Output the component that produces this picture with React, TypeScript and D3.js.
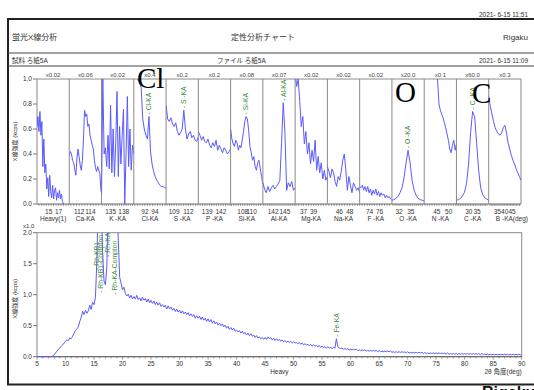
import React from "react";
import * as d3 from "d3";

const W = 534;
const H = 390;

// ---- header texts ----
const printDate = "2021- 6-15 11:51";
const measureDate = "2021- 6-15 11:09";
const headerLeft = "蛍光X線分析";
const headerTitle = "定性分析チャート";
const headerRight = "Rigaku";
const sampleText = "試料  ろ紙5A";
const fileText = "ファイル  ろ紙5A";

// ---- light-element / narrow scan panels (upper chart) ----
const panelNames = ["Heavy(1)", "Ca-KA", "K -KA", "Cl-KA", "S -KA", "P -KA", "Si-KA", "Al-KA", "Mg-KA", "Na-KA", "F -KA", "O -KA", "N -KA", "C -KA", "B -KA"];
const panelFactors = ["x0.02", "x0.06", "x0.02", "x0.4", "x0.2", "x0.2", "x0.08", "x0.07", "x0.02", "x0.02", "x0.02", "x20.0", "x0.1", "x60.0", "x0.3"];
const panelDomains: [number, number][] = [
  [12.6, 19.2], [110.2, 116.0], [132.9, 140.3], [89.8, 96.2], [107.3, 114.1],
  [137.1, 144.1], [105.3, 112.5], [139.4, 147.6], [35.3, 41.8], [43.7, 49.9],
  [72.0, 78.5], [30.2, 38.4], [39.7, 53.3], [22.6, 42.0], [29.2, 51.0],
];
const panelTicks: number[][] = [
  [15, 17], [112, 114], [135, 138], [92, 94], [109, 112], [139, 142], [108, 110],
  [142, 145], [37, 39], [46, 48], [74, 76], [32, 35], [45, 50], [30, 35], [35, 40, 45],
];
// 2θ span covered by each scan
const panelScanRanges: [number, number][] = [
  [12.6, 18.0], [110.2, 115.9], [132.9, 140.3], [90.34, 96.2], [107.3, 114.1],
  [137.1, 144.1], [105.3, 112.5], [139.4, 147.6], [35.3, 41.8], [43.7, 49.9],
  [72.0, 78.5], [30.2, 38.4], [39.7, 53.3], [22.6, 42.0], [29.2, 51.0],
];

const heavy1Scan = [0.62, 0.70, 0.58, 0.74, 0.55, 0.66, 0.30, 0.52, 0.25, 0.32, 0.12, 0.21, 0.06, 0.23, 0.10, 0.05, 0.15, 0.04, 0.11, 0.13, 0.03, 0.09, 0.05, 0.11, 0.04, 0.08, 0.02, 0.0];
const caScan = [0.39, 0.42, 0.40, 0.35, 0.33, 0.28, 0.23, 0.36, 0.44, 0.38, 0.31, 0.27, 0.35, 0.52, 0.75, 0.70, 0.72, 0.62, 0.64, 0.55, 0.51, 0.47, 0.44, 0.35, 0.29, 0.26, 0.30, 0.27, 0.24, 0.10];
const kScan = [0.08, 1.0, 0.40, 0.45, 0.30, 0.55, 0.28, 0.79, 0.25, 0.60, 0.22, 0.48, 0.90, 0.22, 0.62, 0.32, 0.55, 0.76, 0.0, 0.40, 0.86, 0.30, 0.60, 0.27, 0.47, 0.40];
const clScan = [1.05, 0.99, 0.97, 0.93, 0.68, 0.60, 0.55, 0.52, 0.70, 0.42, 0.32, 0.26, 0.22, 0.19, 0.17, 0.15, 0.14, 0.14, 0.13, 0.13];
const sScan = [0.79, 0.68, 0.66, 0.69, 0.64, 0.62, 0.65, 0.58, 0.55, 0.57, 0.60, 0.75, 0.60, 0.52, 0.56, 0.58, 0.53, 0.55, 0.51, 0.50, 0.54];
const pScan = [0.58, 0.55, 0.51, 0.54, 0.50, 0.49, 0.52, 0.47, 0.45, 0.49, 0.46, 0.51, 0.43, 0.47, 0.44, 0.41, 0.45, 0.43, 0.40, 0.42, 0.44];
const siScan = [0.60, 0.52, 0.48, 0.46, 0.51, 0.49, 0.43, 0.47, 0.45, 0.51, 0.58, 0.66, 0.70, 0.68, 0.59, 0.46, 0.41, 0.35, 0.38, 0.30, 0.27, 0.33, 0.35, 0.28, 0.22, 0.16];
const alScan = [0.17, 0.12, 0.09, 0.14, 0.10, 0.13, 0.15, 0.12, 0.14, 0.16, 0.19, 0.49, 0.81, 0.57, 0.11, 0.17, 0.14, 0.18, 0.11, 0.13];
const mgScan = [1.05, 0.94, 1.0, 0.82, 0.62, 0.70, 0.48, 0.58, 0.40, 0.49, 0.32, 0.43, 0.34, 0.51, 0.27, 0.38, 0.25, 0.33, 0.20, 0.27, 0.19, 0.22];
const naScan = [0.30, 0.26, 0.21, 0.28, 0.25, 0.18, 0.14, 0.22, 0.19, 0.26, 0.35, 0.40, 0.27, 0.11, 0.22, 0.15, 0.09, 0.17, 0.14, 0.11, 0.13, 0.09];
const fScan = [0.14, 0.13, 0.15, 0.11, 0.14, 0.10, 0.14, 0.09, 0.12, 0.07, 0.11, 0.08, 0.12, 0.07, 0.10, 0.06, 0.09, 0.07, 0.08, 0.05, 0.07, 0.05, 0.06, 0.04, 0.03];
const oScan = [0.03, 0.035, 0.045, 0.06, 0.09, 0.13, 0.21, 0.33, 0.43, 0.33, 0.19, 0.11, 0.07, 0.045, 0.035, 0.03, 0.025];
const nScan = [1.6, 1.58, 1.55, 1.5, 1.45, 1.4, 1.3, 1.22, 1.15, 1.08, 0.98, 0.80, 0.75, 0.72, 0.69, 0.65, 0.61, 0.56, 0.51, 0.44, 0.41, 0.47, 0.51, 0.43, 0.48];
const cScan = [0.03, 0.035, 0.045, 0.065, 0.095, 0.165, 0.32, 0.57, 0.74, 0.70, 0.49, 0.27, 0.13, 0.075, 0.05, 0.04, 0.03];
const bScan = [0.86, 0.78, 0.72, 0.66, 0.61, 0.58, 0.56, 0.55, 0.57, 0.61, 0.63, 0.57, 0.49, 0.44, 0.39, 0.35, 0.32, 0.28, 0.25, 0.22, 0.19];

const panelScans = [heavy1Scan, caScan, kScan, clScan, sScan, pScan, siScan, alScan, mgScan, naScan, fScan, oScan, nScan, cScan, bScan];

const upperPeaks = [
  { label: "Cl-KA", panel: 3, theta: 92.81 },
  { label: "S -KA", panel: 4, theta: 111.04 },
  { label: "Si-KA", panel: 6, theta: 108.76 },
  { label: "Al-KA", panel: 7, theta: 144.58 },
  { label: "O -KA", panel: 11, theta: 34.3 },
  { label: "C -KA", panel: 13, theta: 32.3 },
];

// ---- heavy element wide scan (lower chart), 2θ from 5° in 0.25° steps ----
const wideStart = 5;
const wideStep = 0.25;
const wideScan = [
  0, 0, 0, 0, 0, 0, 0, 0, 0, 0, 0, 0.01,
  0.03, 0.06, 0.09, 0.12, 0.14, 0.17, 0.19, 0.22,
  0.25, 0.27, 0.26, 0.30, 0.29, 0.33, 0.38, 0.42,
  0.45, 0.48, 0.57, 0.63, 0.73, 0.68, 0.75, 0.70,
  0.74, 0.83, 0.76, 0.88, 0.84, 0.96, 1.55, 2.6,
  2.3, 2.5, 1.7, 1.22, 1.16, 1.45, 2.6, 2.5,
  2.4, 2.6, 2.9, 2.7, 2.5, 1.9, 1.28, 1.18,
  1.08, 1.12, 1.02, 0.98, 1.01, 0.95, 0.99, 0.93,
  0.97, 0.93, 0.99, 0.92, 0.95, 0.90, 0.96, 0.91,
  0.94, 0.88, 0.93, 0.87, 0.91, 0.86, 0.90, 0.84,
  0.88, 0.83, 0.87, 0.81, 0.84, 0.80, 0.83, 0.77,
  0.82, 0.77, 0.80, 0.75, 0.78, 0.73, 0.77, 0.72,
  0.75, 0.70, 0.74, 0.69, 0.72, 0.68, 0.71, 0.66,
  0.69, 0.65, 0.68, 0.62, 0.66, 0.62, 0.65, 0.60,
  0.64, 0.59, 0.62, 0.57, 0.61, 0.56, 0.60, 0.54,
  0.58, 0.53, 0.56, 0.51, 0.54, 0.50, 0.53, 0.48,
  0.51, 0.46, 0.49, 0.44, 0.47, 0.43, 0.46, 0.41,
  0.43, 0.40, 0.42, 0.38, 0.41, 0.37, 0.39, 0.35,
  0.38, 0.34, 0.37, 0.33, 0.35, 0.31, 0.34, 0.30,
  0.32, 0.29, 0.31, 0.28, 0.31, 0.28, 0.32, 0.29,
  0.31, 0.27, 0.30, 0.26, 0.29, 0.26, 0.28, 0.25,
  0.27, 0.24, 0.26, 0.23, 0.25, 0.23, 0.25, 0.22,
  0.24, 0.22, 0.23, 0.21, 0.23, 0.20, 0.22, 0.19,
  0.21, 0.19, 0.20, 0.18, 0.20, 0.17, 0.19, 0.17,
  0.18, 0.16, 0.18, 0.15, 0.17, 0.15, 0.16, 0.14,
  0.16, 0.14, 0.15, 0.13, 0.15, 0.14, 0.29, 0.16,
  0.14, 0.13, 0.14, 0.12, 0.13, 0.12, 0.13, 0.11,
  0.12, 0.11, 0.12, 0.11, 0.12, 0.10, 0.11, 0.10,
  0.11, 0.10, 0.11, 0.09, 0.10, 0.09, 0.10, 0.09,
  0.10, 0.09, 0.10, 0.08, 0.10, 0.08, 0.09, 0.08,
  0.09, 0.08, 0.09, 0.08, 0.09, 0.07, 0.08, 0.07,
  0.08, 0.07, 0.08, 0.07, 0.08, 0.07, 0.08, 0.06,
  0.08, 0.06, 0.07, 0.06, 0.07, 0.06, 0.07, 0.06,
  0.07, 0.06, 0.07, 0.05, 0.07, 0.05, 0.06, 0.05,
  0.06, 0.05, 0.06, 0.05, 0.06, 0.05, 0.06, 0.05,
  0.06, 0.05, 0.06, 0.04, 0.06, 0.04, 0.05, 0.04,
  0.05, 0.04, 0.05, 0.04, 0.05, 0.04, 0.05, 0.04,
  0.05, 0.04, 0.05, 0.04, 0.05, 0.04, 0.05, 0.04,
  0.05, 0.04, 0.05, 0.03, 0.05, 0.04, 0.04, 0.03,
  0.04, 0.03, 0.04, 0.03, 0.04, 0.03, 0.04, 0.03,
  0.04, 0.03, 0.04, 0.03, 0.04, 0.03, 0.04, 0.03,
  0.04, 0.03, 0.04, 0.03, 0.04, 0.03, 0.04, 0.03,
  0.03,
];
const wideTicks = d3.range(5, 91, 5);
const wideLabels = [
  { label: "Rh-KB1", theta: 15.55, level: 1.4 },
  { label: "Rh-KB1-Compton", theta: 16.25, level: 1.03 },
  { label: "Rh-KA", theta: 17.35, level: 1.61 },
  { label: "Rh-KA-Compton", theta: 18.65, level: 1.0 },
];
const widePeaks = [{ label: "Fe-KA", theta: 57.5 }];

const upperYTicks = [0, 0.2, 0.4, 0.6, 0.8, 1.0];
const lowerYTicks = [0, 0.5, 1.0, 1.5, 2.0];

// ---- geometry ----
const up = { left: 37, right: 521, top: 79, bottom: 204 };
const low = { left: 37, right: 521.7, top: 232.7, bottom: 356.7 };

const FONT = "'Liberation Sans', 'Noto Sans CJK JP', sans-serif";
const LINE = "#5a5aff";
const GREEN = "#3d8a3d";
const INK = "#333";
const FRAME = "#8a8a8a";

export default function App() {
  const yUp = d3.scaleLinear().domain([0, 1]).range([up.bottom, up.top]);
  const panelEdge = d3.scaleLinear().domain([0, panelNames.length]).range([up.left, up.right]);

  const panels = panelNames.map((name, i) => {
    const x0 = panelEdge(i);
    const x1 = panelEdge(i + 1);
    const x = d3.scaleLinear().domain(panelDomains[i]).range([x0, x1]);
    const [s0, s1] = panelScanRanges[i];
    const vals = panelScans[i];
    const pts: [number, number][] = vals.map((v, k) => [s0 + (k * (s1 - s0)) / (vals.length - 1), v]);
    const path = d3.line<[number, number]>().x((d) => x(d[0])).y((d) => yUp(d[1]))(pts) || "";
    const pxPerDeg = (x1 - x0) / (panelDomains[i][1] - panelDomains[i][0]);
    const minorStep = pxPerDeg > 3 ? 0.5 : 1;
    const minor = d3.range(Math.ceil(panelDomains[i][0] / minorStep) * minorStep, panelDomains[i][1], minorStep);
    return { name, i, x0, x1, x, pts, path, minor };
  });

  const xLow = d3.scaleLinear().domain([5, 90]).range([low.left, low.right]);
  const yLow = d3.scaleLinear().domain([0, 2]).range([low.bottom, low.top]);
  const widePts: [number, number][] = wideScan.map((v, k) => [wideStart + k * wideStep, v]);
  const widePath = d3.line<[number, number]>().x((d) => xLow(d[0])).y((d) => yLow(d[1]))(widePts) || "";

  const peakValue = (pts: [number, number][], theta: number) => {
    const near = pts.filter((p) => Math.abs(p[0] - theta) < 0.3);
    return d3.max(near, (p) => p[1]) ?? 0;
  };

  return (
    <svg width={W} height={H} style={{ position: "absolute", left: 0, top: 0, background: "#fff" }} fontFamily={FONT}>
      <defs>
        {panels.map((p) => (
          <clipPath id={`pc${p.i}`} key={p.i}>
            <rect x={p.x0} y={up.top} width={p.x1 - p.x0} height={up.bottom - up.top + 1} />
          </clipPath>
        ))}
        <clipPath id="lowclip">
          <rect x={low.left} y={low.top} width={low.right - low.left} height={low.bottom - low.top + 1} />
        </clipPath>
      </defs>

      {/* sheet frame and header */}
      <rect x={8} y={19} width={540} height={365.5} fill="none" stroke="#222" strokeWidth={2} />
      <line x1={8} x2={W} y1={53} y2={53} stroke="#444" strokeWidth={1} />
      <line x1={8} x2={W} y1={66} y2={66} stroke="#444" strokeWidth={1} />
      <text x={528} y={16.5} fontSize={6.5} textAnchor="end" fill={INK}>{printDate}</text>
      <text x={12} y={40} fontSize={8} fill={INK}>{headerLeft}</text>
      <text x={263} y={40} fontSize={8} textAnchor="middle" fill={INK}>{headerTitle}</text>
      <text x={528} y={40} fontSize={8} textAnchor="end" fill={INK}>{headerRight}</text>
      <text x={12} y={62.5} fontSize={6.5} fill={INK}>{sampleText}</text>
      <text x={217} y={62.5} fontSize={6.5} fill={INK}>{fileText}</text>
      <text x={528} y={62.5} fontSize={6.5} textAnchor="end" fill={INK}>{measureDate}</text>

      {/* upper chart */}
      <text transform={`translate(17,${(up.top + up.bottom) / 2}) rotate(-90)`} fontSize={6} textAnchor="middle" fill={INK}>X線強度 (kcps)</text>
      {upperYTicks.map((t) => (
        <g key={t}>
          <line x1={up.left - 4} x2={up.left} y1={yUp(t)} y2={yUp(t)} stroke="#555" strokeWidth={0.8} />
          <text x={up.left - 5} y={yUp(t) + 2.2} fontSize={6.5} textAnchor="end" fill={INK}>{t.toFixed(1)}</text>
        </g>
      ))}
      <line x1={up.left} x2={up.right} y1={up.top} y2={up.top} stroke={FRAME} strokeWidth={1} />
      <line x1={up.left} x2={up.right} y1={up.bottom} y2={up.bottom} stroke="#666" strokeWidth={1} />
      {panels.map((p) => (
        <g key={p.i}>
          <line x1={p.x0} x2={p.x0} y1={up.top} y2={up.bottom} stroke={FRAME} strokeWidth={1} />
          {p.i === panels.length - 1 && (
            <line x1={p.x1} x2={p.x1} y1={up.top} y2={up.bottom} stroke={FRAME} strokeWidth={1} />
          )}
          <text x={(p.x0 + p.x1) / 2} y={77} fontSize={6} textAnchor="middle" fill="#444">{panelFactors[p.i]}</text>
          {p.minor.map((m) => (
            <line key={m} x1={p.x(m)} x2={p.x(m)} y1={up.bottom} y2={up.bottom + 2} stroke="#666" strokeWidth={0.6} />
          ))}
          {panelTicks[p.i].map((t) => (
            <text key={t} x={p.x(t)} y={213.5} fontSize={6.5} textAnchor="middle" fill={INK}>{t}</text>
          ))}
          {p.i === panels.length - 1 ? (
            <text x={(p.x0 + p.x1) / 2 - 9} y={220.5} fontSize={6.5} fill={INK}>{p.name + "(deg)"}</text>
          ) : (
            <text x={(p.x0 + p.x1) / 2} y={220.5} fontSize={6.5} textAnchor="middle" fill={INK}>{p.name}</text>
          )}
          <path d={p.path} fill="none" stroke={LINE} strokeWidth={1} clipPath={`url(#pc${p.i})`} />
        </g>
      ))}
      {upperPeaks.map((pk) => {
        const p = panels[pk.panel];
        const yy = yUp(peakValue(p.pts, pk.theta)) - 2;
        return (
          <text key={pk.label} transform={`translate(${p.x(pk.theta) + 2.3},${yy}) rotate(-90)`} fontSize={6.8} fill={GREEN}>
            {"- " + pk.label}
          </text>
        );
      })}

      {/* lower chart */}
      <text x={23} y={227.5} fontSize={6} fill={INK}>x1.0</text>
      <text transform={`translate(17,${(low.top + low.bottom) / 2 + 4}) rotate(-90)`} fontSize={6} textAnchor="middle" fill={INK}>X線強度 (kcps)</text>
      <rect x={low.left} y={low.top} width={low.right - low.left} height={low.bottom - low.top} fill="none" stroke={FRAME} strokeWidth={1} />
      <line x1={low.left} x2={low.right} y1={low.bottom} y2={low.bottom} stroke="#666" strokeWidth={1} />
      {lowerYTicks.map((t) => (
        <g key={t}>
          <line x1={low.left - 4} x2={low.left} y1={yLow(t)} y2={yLow(t)} stroke="#555" strokeWidth={0.8} />
          <text x={low.left - 5} y={yLow(t) + 2.2} fontSize={6.5} textAnchor="end" fill={INK}>{t.toFixed(1)}</text>
        </g>
      ))}
      {d3.range(5, 91, 1).map((m) => (
        <line key={m} x1={xLow(m)} x2={xLow(m)} y1={low.bottom} y2={low.bottom + (m % 5 === 0 ? 3 : 1.8)} stroke="#666" strokeWidth={0.6} />
      ))}
      {wideTicks.map((t) => (
        <text key={t} x={xLow(t)} y={366} fontSize={6.5} textAnchor="middle" fill={INK}>{t}</text>
      ))}
      <text x={(low.left + low.right) / 2} y={373.5} fontSize={6.5} textAnchor="middle" fill={INK}>Heavy</text>
      <text x={low.right} y={373.5} fontSize={6.5} textAnchor="end" fill={INK}>2θ 角度(deg)</text>
      <path d={widePath} fill="none" stroke={LINE} strokeWidth={1} clipPath="url(#lowclip)" />
      {wideLabels.map((l) => (
        <text key={l.label} transform={`translate(${xLow(l.theta) + 2.3},${yLow(l.level)}) rotate(-90)`} fontSize={6.8} fill={GREEN}>
          {"- " + l.label}
        </text>
      ))}
      {widePeaks.map((l) => (
        <text key={l.label} transform={`translate(${xLow(l.theta) + 2.3},${yLow(peakValue(widePts, l.theta)) - 2}) rotate(-90)`} fontSize={6.8} fill={GREEN}>
          {"- " + l.label}
        </text>
      ))}

      {/* element markers */}
      <text x={137} y={88} fontSize={29} fontFamily="'Liberation Serif', serif" fill="#000">Cl</text>
      <text x={395} y={102} fontSize={29} fontFamily="'Liberation Serif', serif" fill="#000">O</text>
      <text x={472} y={103} fontSize={29} fontFamily="'Liberation Serif', serif" fill="#000">C</text>

      {/* footer logo */}
      <text x={482} y={398} fontSize={16} fontWeight="bold" fill="#111">Rigaku</text>
    </svg>
  );
}
